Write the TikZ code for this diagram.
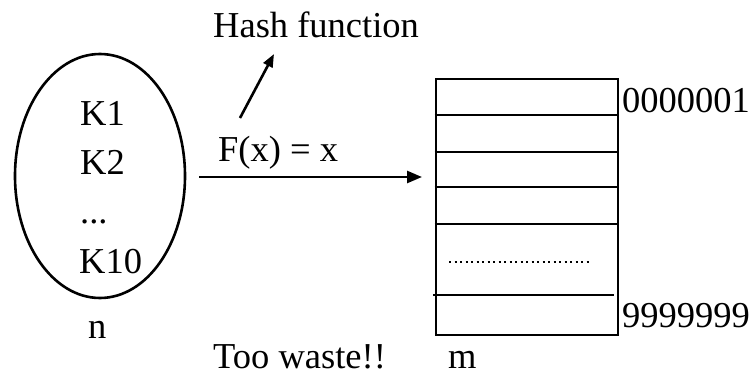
\documentclass[tikz,border=0pt]{standalone}
\usepackage{fontspec}
\setmainfont{Liberation Serif}
\usetikzlibrary{arrows.meta,shapes.geometric}
\begin{document}
\begin{tikzpicture}[x=1pt,y=-1pt,
  lbl/.style={anchor=base west,inner sep=0pt,font=\fontsize{36.5}{40}\selectfont},
  thick line/.style={line width=2.6pt},
  arr/.style={thick line,-{Triangle[length=15pt,width=12pt]}}]
\useasboundingbox (0,0) rectangle (756,375);
% key set
\node[draw,thick line,ellipse,minimum width=170pt,minimum height=244pt,inner sep=0pt] (keys) at (100,176) {};
\node[lbl] (k1) at (80,125) {K1};
\node[lbl] (k2) at (80,174) {K2};
\node[lbl] (kd) at (80,223) {...};
\node[lbl] (k10) at (79,273) {K10};
\node[lbl] (n) at (88,338) {n};
% hash function
\node[lbl] (hash) at (213,37) {Hash function};
\node[lbl] (fx) at (218,161) {F(x) = x};
\coordinate (hs) at (240,118);
\coordinate (he) at (274,54);
\draw[thick line,-{Triangle[length=13pt,width=10pt]}] (hs) -- (he);
% table
\node[draw,thick line,rectangle,minimum width=182pt,minimum height=256pt,inner sep=0pt] (table) at (527,207) {};
\foreach \yy in {115,152,187,224} \draw[thick line] (table.west |- 0,\yy) -- (table.east |- 0,\yy);
\draw[thick line] (433,295) -- (614,295);
\draw[line width=2.2pt,dash pattern=on 2.2pt off 3.3pt] (449,262) -- (591,262);
\node[lbl] (top) at (622,112) {0000001};
\node[lbl] (bot) at (622,327) {9999999};
\node[lbl] (m) at (448,368) {m};
\node[lbl] (waste) at (213,368) {Too waste!!};
% mapping arrow
\coordinate (as) at (199,177);
\coordinate (ae) at (422,177);
\draw[arr] (as) -- (ae);
\end{tikzpicture}
\end{document}
